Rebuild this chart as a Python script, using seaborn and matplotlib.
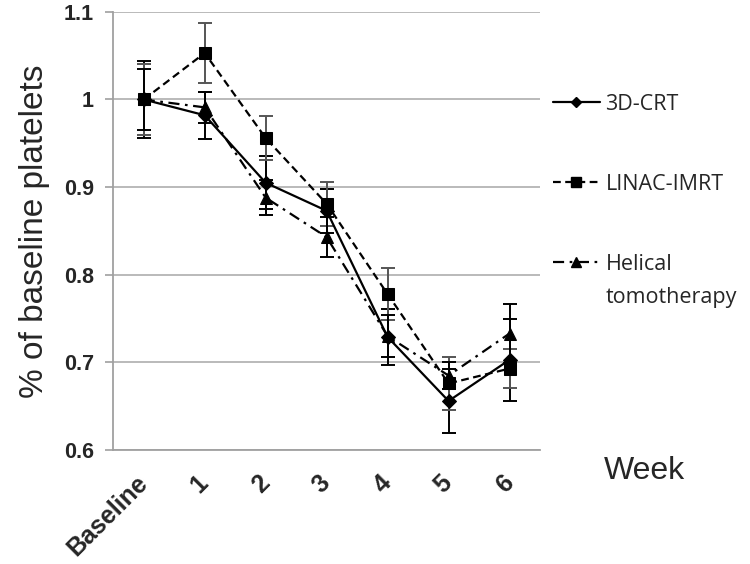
import numpy as np
import pandas as pd
import matplotlib
matplotlib.use('Agg')
import matplotlib.pyplot as plt
import seaborn as sns
from matplotlib.lines import Line2D

weeks = ['Baseline', '1', '2', '3', '4', '5', '6']
crt = [1.000, 0.982, 0.905, 0.873, 0.729, 0.656, 0.703]
crt_err = [0.044, 0.027, 0.030, 0.025, 0.032, 0.037, 0.047]
imrt = [1.000, 1.053, 0.956, 0.881, 0.778, 0.676, 0.693]
imrt_err = [0.040, 0.034, 0.025, 0.025, 0.030, 0.030, 0.022]
helical = [1.000, 0.991, 0.888, 0.843, 0.730, 0.685, 0.733]
helical_err = [0.035, 0.018, 0.020, 0.023, 0.024, 0.015, 0.034]

series = [
    ('3D-CRT', crt, crt_err, 'D', '-', 7, 'black'),
    ('LINAC-IMRT', imrt, imrt_err, 's', (0, (3.5, 2)), 8, '#555555'),
    ('Helical', helical, helical_err, '^', (0, (5, 2.5, 1.2, 2.5)), 8, 'black'),
]

sns.set_style('white')
plt.rcParams['font.family'] = ['Liberation Sans', 'DejaVu Sans']

fig = plt.figure(figsize=(7.5, 5.64), dpi=100)
ax = fig.add_axes([0.151, 0.202, 0.569, 0.777])

x = np.arange(len(weeks))
handles = []
for name, vals, err, mk, ls, ms, ecol in series:
    ax.errorbar(x, vals, yerr=err, fmt='none', ecolor=ecol, elinewidth=1.4,
                capsize=5, capthick=1.4, zorder=2)
    df = pd.DataFrame({'week': x, 'value': vals})
    sns.lineplot(data=df, x='week', y='value', ax=ax, color='black', lw=1.6,
                 linestyle=ls, marker=mk, markersize=ms, markeredgecolor='black',
                 zorder=3)
    handles.append(Line2D([], [], color='black', lw=1.6, linestyle=ls, marker=mk,
                          markersize=ms - 1.5))

ax.set_xlim(-0.5, 6.5)
ax.set_ylim(0.6, 1.1)
ax.set_yticks([0.6, 0.7, 0.8, 0.9, 1.0, 1.1])
ax.set_yticklabels(['0.6', '0.7', '0.8', '0.9', '1', '1.1'], fontsize=15.5, fontweight='bold')
ax.set_xticks(x)
ax.set_xticklabels(weeks, fontsize=18, fontweight='bold', rotation=45, ha='right',
                   va='center', rotation_mode='anchor')
ax.set_xticks(np.arange(-0.5, 7, 1), minor=True)
ax.tick_params(axis='x', which='major', length=0, pad=21)
ax.tick_params(axis='x', which='minor', length=7, width=1.2, color='#a0a0a0', direction='out')
ax.tick_params(axis='y', length=6, width=1.2, color='#a0a0a0', direction='out', pad=8)
ax.tick_params(axis='both', bottom=True, left=True)
ax.grid(axis='y', color='#b4b4b4', lw=1.3)
ax.set_axisbelow(True)
for s in ['top', 'right']:
    ax.spines[s].set_visible(False)
for s in ['left', 'bottom']:
    ax.spines[s].set_color('#a0a0a0')
    ax.spines[s].set_linewidth(1.3)

ax.set_xlabel('')
ax.set_ylabel('% of baseline platelets', fontsize=24, labelpad=10)
fig.text(0.805, 0.165, 'Week', fontsize=23, ha='left', va='center')

leg_font = {'family': 'Open Sans', 'size': 15.5}
leg = fig.legend(handles, [s[0] for s in series], loc='upper left',
                 bbox_to_anchor=(0.737, 0.834), frameon=False, borderpad=0,
                 borderaxespad=0, handlelength=2.2, handletextpad=0.25,
                 labelspacing=2.75, prop=leg_font)
fig.text(0.808, 1 - 297 / 564, 'tomotherapy', ha='left', va='center', **leg_font)

fig.savefig('out.png', dpi=100)
